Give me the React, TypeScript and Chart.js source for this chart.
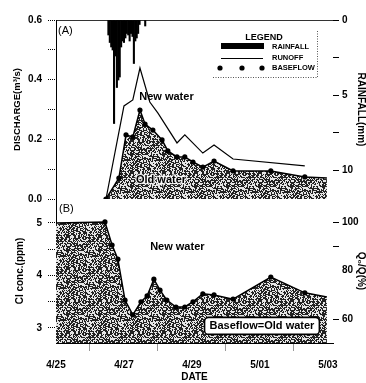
import React, { useEffect, useRef } from 'react';
import { Chart, registerables } from 'chart.js';

Chart.register(...registerables);

// x values are days after 4/25 00:00
const dateTickValues = [0, 2, 4, 6, 8];
const dateTickLabels = ['4/25', '4/27', '4/29', '5/01', '5/03'];

const dischargeTicks = [0, 0.1, 0.2, 0.3, 0.4, 0.5, 0.6];
const rainTicks = [0, 2.5, 5, 7.5, 10];
const clTicks = [3, 3.5, 4, 4.5, 5];
const pctTicks = [60, 80, 90, 100];

// hourly rainfall (hours after 4/25 00:00) in mm
const rainHour = [37, 38, 39, 40, 41, 42, 43, 44, 45, 46, 47, 48, 49, 50, 51, 52, 53, 54, 55, 56, 57, 58, 59, 63];
const rainMm = [1.0, 1.5, 1.8, 2.0, 6.9, 2.4, 4.5, 4.0, 3.8, 1.8, 1.4, 1.5, 1.2, 0.9, 1.0, 1.4, 0.9, 1.1, 2.9, 1.4, 1.2, 0.9, 0.3, 0.4];

const runoffDay = [1.47, 2.0, 2.26, 2.47, 2.76, 3.0, 3.56, 3.79, 4.32, 4.65, 5.21, 7.32];
const runoffQ = [0, 0.312, 0.332, 0.439, 0.325, 0.288, 0.188, 0.215, 0.154, 0.181, 0.134, 0.111];

const baseDay = [1.47, 1.85, 2.06, 2.26, 2.47, 2.62, 2.85, 3.12, 3.29, 3.56, 3.79, 4.03, 4.32, 4.65, 5.21, 6.32, 7.32, 7.97];
const baseQ = [0, 0.07, 0.215, 0.208, 0.298, 0.251, 0.231, 0.198, 0.161, 0.141, 0.141, 0.124, 0.107, 0.127, 0.094, 0.094, 0.074, 0.07];

const clDay = [0, 1.44, 1.65, 1.82, 2.03, 2.26, 2.5, 2.68, 2.88, 3.06, 3.26, 3.53, 3.79, 4.03, 4.32, 4.65, 5.21, 6.32, 7.32, 7.97];
const clPpm = [5.0, 5.02, 4.58, 4.31, 3.53, 3.25, 3.5, 3.61, 3.93, 3.72, 3.53, 3.4, 3.4, 3.5, 3.65, 3.63, 3.55, 3.97, 3.67, 3.59];

// axis ranges
const X_MIN = 0, X_MAX = 8.15;
const Q_MIN = 0, Q_MAX = 0.6;
const RAIN_MIN = 0, RAIN_MAX = 11.93;
const CL_MIN = 2.714, CL_MAX = 5.457;
const PCT_MIN = 50.1, PCT_MAX = 109.5;

const FONT = "'Liberation Sans', Arial, Helvetica, sans-serif";

type Anno = { text: string; x: number; y: number; axis: 'yA' | 'yB'; align: CanvasTextAlign; bold: boolean; halo?: boolean; box?: boolean };
const annotations: Anno[] = [
  { text: '(A)', x: 0.06, y: 0.563, axis: 'yA', align: 'left', bold: false },
  { text: '(B)', x: 0.09, y: 5.27, axis: 'yB', align: 'left', bold: false },
  { text: 'New water', x: 3.25, y: 0.342, axis: 'yA', align: 'center', bold: true },
  { text: 'Old water', x: 3.09, y: 0.064, axis: 'yA', align: 'center', bold: true, halo: true },
  { text: 'New water', x: 3.57, y: 4.54, axis: 'yB', align: 'center', bold: true },
  { text: 'Baseflow=Old water', x: 6.06, y: 3.04, axis: 'yB', align: 'center', bold: true, box: true },
];

function makeStipple(): CanvasPattern | string {
  const n = 32;
  const c = document.createElement('canvas');
  c.width = n; c.height = n;
  const g = c.getContext('2d');
  if (!g) return '#888';
  const img = g.createImageData(n, n);
  for (let y = 0; y < n; y++) {
    for (let x = 0; x < n; x++) {
      let h = (Math.imul(x, 374761393) + Math.imul(y, 668265263)) | 0;
      h = Math.imul(h ^ (h >>> 13), 1274126177);
      h = (h ^ (h >>> 16)) >>> 0;
      const v = (h % 100) < 54 ? 35 : 230;
      const i = (y * n + x) * 4;
      img.data[i] = v; img.data[i + 1] = v; img.data[i + 2] = v; img.data[i + 3] = 255;
    }
  }
  g.putImageData(img, 0, 0);
  return g.createPattern(c, 'repeat') ?? '#888';
}

function roundRect(ctx: CanvasRenderingContext2D, x: number, y: number, w: number, h: number, r: number) {
  ctx.beginPath();
  ctx.moveTo(x + r, y);
  ctx.lineTo(x + w - r, y);
  ctx.arcTo(x + w, y, x + w, y + r, r);
  ctx.lineTo(x + w, y + h - r);
  ctx.arcTo(x + w, y + h, x + w - r, y + h, r);
  ctx.lineTo(x + r, y + h);
  ctx.arcTo(x, y + h, x, y + h - r, r);
  ctx.lineTo(x, y + r);
  ctx.arcTo(x, y, x + r, y, r);
  ctx.closePath();
}

const annoPlugin = {
  id: 'annoPlugin',
  afterDatasetsDraw(chart: any) {
    const ctx: CanvasRenderingContext2D = chart.ctx;
    const xs = chart.scales.x;
    ctx.save();
    ctx.textBaseline = 'middle';
    for (const a of annotations) {
      const px = xs.getPixelForValue(a.x);
      const py = chart.scales[a.axis].getPixelForValue(a.y);
      ctx.font = `${a.bold ? 'bold ' : ''}11px ${FONT}`;
      ctx.textAlign = a.align;
      if (a.box) {
        const w = ctx.measureText(a.text).width + 10;
        const h = 17;
        roundRect(ctx, px - w / 2, py - h / 2, w, h, 4);
        ctx.fillStyle = '#fff';
        ctx.fill();
        ctx.lineWidth = 1.6;
        ctx.strokeStyle = '#000';
        ctx.stroke();
      }
      if (a.halo) {
        ctx.lineWidth = 2.5;
        ctx.strokeStyle = 'rgba(255,255,255,0.85)';
        ctx.strokeText(a.text, px, py);
      }
      ctx.fillStyle = '#000';
      ctx.fillText(a.text, px, py);
    }

    // legend
    const ca = chart.chartArea;
    const lx = ca.right - 112;
    const ty = ca.top;
    ctx.fillStyle = '#000';
    ctx.textAlign = 'center';
    ctx.font = `bold 9px ${FONT}`;
    ctx.fillText('LEGEND', lx + 43, ty + 18);
    ctx.fillRect(lx, ty + 23, 43, 6);
    ctx.beginPath();
    ctx.lineWidth = 1;
    ctx.strokeStyle = '#000';
    ctx.moveTo(lx, ty + 38.5);
    ctx.lineTo(lx + 42, ty + 38.5);
    ctx.stroke();
    for (const dx of [-1, 21, 41]) {
      ctx.beginPath();
      ctx.arc(lx + dx, ty + 48, 2.6, 0, Math.PI * 2);
      ctx.fill();
    }
    ctx.textAlign = 'left';
    ctx.font = `bold 7.5px ${FONT}`;
    ctx.fillText('RAINFALL', lx + 51, ty + 27);
    ctx.fillText('RUNOFF', lx + 51, ty + 38);
    ctx.fillText('BASEFLOW', lx + 51, ty + 48);
    ctx.setLineDash([1, 1.5]);
    ctx.strokeStyle = '#555';
    ctx.beginPath();
    ctx.moveTo(lx - 8, ty + 57.5);
    ctx.lineTo(lx + 96.5, ty + 57.5);
    ctx.lineTo(lx + 96.5, ty + 11);
    ctx.stroke();
    ctx.restore();
  },
};

const tickFont = { size: 10, weight: 'bold' as const, family: FONT };
const titleFont = { size: 10, weight: 'bold' as const, family: FONT, lineHeight: 1 };

export default function App() {
  const ref = useRef<HTMLCanvasElement | null>(null);

  useEffect(() => {
    document.body.style.margin = '0';
    const canvas = ref.current;
    if (!canvas) return;
    const stipple = makeStipple();

    const rainData = rainHour.map((h, i) => ({ x: h / 24, y: rainMm[i] }));
    const runoffData = runoffDay.map((d, i) => ({ x: d, y: runoffQ[i] }));
    const baseData = baseDay.map((d, i) => ({ x: d, y: baseQ[i] }));
    const clData = clDay.map((d, i) => ({ x: d, y: clPpm[i] }));

    const leftGrid = {
      display: true,
      drawOnChartArea: false,
      tickLength: 8,
      color: '#000',
      tickColor: '#000',
      tickBorderDash: [1, 1],
    };
    const leftBorder = { display: true, color: '#000', width: 1, dash: [1, 2] };

    const chart = new Chart(canvas, {
      type: 'line',
      data: {
        datasets: [
          {
            type: 'bar',
            label: 'RAINFALL',
            data: rainData as any,
            yAxisID: 'yRain',
            backgroundColor: '#000',
            borderWidth: 0,
            categoryPercentage: 1,
            barPercentage: 1,
          } as any,
          {
            label: 'RUNOFF',
            data: runoffData as any,
            yAxisID: 'yA',
            borderColor: '#000',
            borderWidth: 1.2,
            pointRadius: 0,
            fill: false,
            tension: 0,
          },
          {
            label: 'BASEFLOW',
            data: baseData as any,
            yAxisID: 'yA',
            borderColor: '#000',
            borderWidth: 1.5,
            backgroundColor: stipple as any,
            pointBackgroundColor: '#000',
            pointBorderWidth: 0,
            pointRadius: (c: any) => (c.dataIndex === baseDay.length - 1 ? 0 : 2.6),
            fill: 'start',
            tension: 0,
          },
          {
            label: 'Cl',
            data: clData as any,
            yAxisID: 'yB',
            borderColor: '#000',
            borderWidth: 1.5,
            backgroundColor: stipple as any,
            pointBackgroundColor: '#000',
            pointBorderWidth: 0,
            pointRadius: (c: any) => (c.dataIndex === 0 || c.dataIndex === clDay.length - 1 ? 0 : 2.6),
            fill: 'start',
            tension: 0,
          },
        ],
      },
      options: {
        responsive: false,
        animation: false,
        devicePixelRatio: 1,
        layout: { padding: { top: 20, left: 0, right: 0, bottom: 0 } },
        plugins: { legend: { display: false }, tooltip: { enabled: false } },
        scales: {
          x: {
            type: 'linear',
            min: X_MIN,
            max: X_MAX,
            offset: false,
            afterBuildTicks: (s: any) => { s.ticks = dateTickValues.map((v) => ({ value: v })); },
            afterFit: (s: any) => { s.height = 40; },
            ticks: {
              autoSkip: false,
              maxRotation: 0,
              padding: 8,
              color: '#000',
              font: tickFont,
              callback: (v: any) => {
                const i = dateTickValues.indexOf(Number(v));
                return i >= 0 ? dateTickLabels[i] : '';
              },
            },
            grid: { display: true, drawOnChartArea: false, tickLength: 8, tickColor: '#999', color: '#000' },
            border: { display: true, color: '#000', width: 1 },
            title: { display: true, text: 'DATE', color: '#000', font: titleFont, padding: { top: 0, bottom: 1 } },
          },
          yB: {
            type: 'linear',
            position: 'left',
            stack: 'L',
            stackWeight: 144,
            min: CL_MIN,
            max: CL_MAX,
            afterBuildTicks: (s: any) => { s.ticks = clTicks.map((v) => ({ value: v })); },
            afterFit: (s: any) => { s.width = 56; },
            ticks: {
              padding: 6,
              color: '#000',
              font: tickFont,
              callback: (v: any) => (Number.isInteger(Number(v)) ? String(v) : ''),
            },
            grid: leftGrid,
            border: leftBorder,
            title: { display: true, text: 'Cl conc.(ppm)', color: '#000', font: titleFont, padding: { top: 15, bottom: 0 } },
          },
          yRain: {
            type: 'linear',
            position: 'right',
            stack: 'R',
            stackWeight: 179,
            reverse: true,
            min: RAIN_MIN,
            max: RAIN_MAX,
            afterBuildTicks: (s: any) => { s.ticks = rainTicks.map((v) => ({ value: v })); },
            afterFit: (s: any) => { s.width = 33; },
            ticks: {
              padding: 3,
              color: '#000',
              font: tickFont,
              callback: (v: any) => (Number(v) % 5 === 0 ? String(v) : ''),
            },
            grid: {
              display: true,
              drawOnChartArea: true,
              tickLength: 6,
              color: (c: any) => (c.tick && c.tick.value === 0 ? '#333' : 'rgba(0,0,0,0)'),
              tickColor: '#000',
            },
            border: { display: false },
            title: { display: true, text: 'RAINFALL(mm)', color: '#000', font: titleFont, padding: { top: 0, bottom: 0 } },
          },
          yA: {
            type: 'linear',
            position: 'left',
            stack: 'L',
            stackWeight: 179,
            min: Q_MIN,
            max: Q_MAX,
            afterBuildTicks: (s: any) => { s.ticks = dischargeTicks.map((v) => ({ value: v })); },
            afterFit: (s: any) => { s.width = 56; },
            ticks: {
              padding: 6,
              color: '#000',
              font: tickFont,
              callback: (v: any) => (Math.round(Number(v) * 10) % 2 === 0 ? Number(v).toFixed(1) : ''),
            },
            grid: leftGrid,
            border: leftBorder,
            title: { display: true, text: 'DISCHARGE(m³/s)', color: '#000', font: { ...titleFont, size: 9.5 }, padding: { top: 13, bottom: 0 } },
          },
          yPct: {
            type: 'linear',
            position: 'right',
            stack: 'R',
            stackWeight: 144,
            min: PCT_MIN,
            max: PCT_MAX,
            afterBuildTicks: (s: any) => { s.ticks = pctTicks.map((v) => ({ value: v })); },
            afterFit: (s: any) => { s.width = 33; },
            ticks: {
              padding: 3,
              color: '#000',
              font: tickFont,
              callback: (v: any) => (Number(v) % 20 === 0 ? String(v) : ''),
            },
            grid: {
              display: true,
              drawOnChartArea: false,
              tickLength: 6,
              color: '#000',
              tickColor: (c: any) => (c.tick && (c.tick.value === 80) ? 'rgba(0,0,0,0)' : '#000'),
            },
            border: { display: false },
            title: { display: true, text: 'Q₀/Q(%)', color: '#000', font: titleFont, padding: { top: 0, bottom: 0 } },
          },
        } as any,
      },
      plugins: [annoPlugin],
    });

    return () => chart.destroy();
  }, []);

  return (
    <div style={{ width: 366, height: 383 }}>
      <canvas ref={ref} width={366} height={383} style={{ display: 'block', width: 366, height: 383 }} />
    </div>
  );
}
